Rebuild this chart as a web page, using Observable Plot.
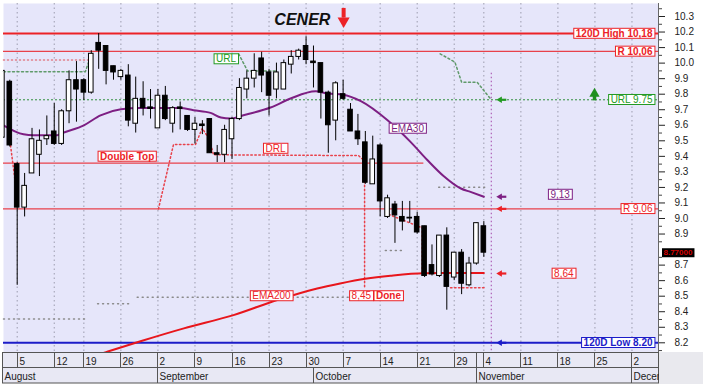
<!DOCTYPE html>
<html><head><meta charset="utf-8">
<script src="https://cdn.jsdelivr.net/npm/d3@7"></script>
<script src="https://cdn.jsdelivr.net/npm/@observablehq/plot@0.6"></script>
<style>html,body{margin:0;padding:0;background:#fff}#chart svg{display:block}</style>
</head><body><div id="chart"></div>
<script>
// ---------- data ----------
const dates = ["2024-08-01","2024-08-02","2024-08-05","2024-08-06","2024-08-07","2024-08-08","2024-08-09","2024-08-12","2024-08-13","2024-08-14","2024-08-16","2024-08-19","2024-08-20","2024-08-21","2024-08-22","2024-08-23","2024-08-26","2024-08-27","2024-08-28","2024-08-29","2024-08-30","2024-09-02","2024-09-03","2024-09-04","2024-09-05","2024-09-06","2024-09-09","2024-09-10","2024-09-11","2024-09-12","2024-09-13","2024-09-16","2024-09-17","2024-09-18","2024-09-19","2024-09-20","2024-09-23","2024-09-24","2024-09-25","2024-09-26","2024-09-27","2024-09-30","2024-10-01","2024-10-02","2024-10-03","2024-10-04","2024-10-07","2024-10-08","2024-10-09","2024-10-10","2024-10-11","2024-10-14","2024-10-15","2024-10-16","2024-10-17","2024-10-18","2024-10-21","2024-10-22","2024-10-23","2024-10-24","2024-10-25","2024-10-29","2024-10-30","2024-10-31","2024-11-01","2024-11-04"];
const open = [9.52,9.88,9.35,9.07,9.29,9.41,9.51,9.56,9.48,9.69, 9.89,9.89,9.81,10.13,10.11,9.98,9.91,9.92,9.61,9.77, 9.715,9.58,9.79,9.61,9.715,9.66,9.57,9.605,9.64,9.42, 9.41,9.51,9.64,9.83,9.90,10.03,9.94,9.83,9.83,9.99, 10.04,10.11,10.01,10.00,9.81,9.63,9.80,9.70,9.56,9.49, 9.22,9.47,9.01,9.09,9.01,9.005,9.01,8.95,8.70,8.63, 8.89,8.62,8.78,8.57,8.71,8.95];
const high = [9.96,9.89,9.36,9.29,9.58,9.57,9.66,9.74,9.70,9.95, 10.01,9.90,10.08,10.19,10.11,9.98,9.96,9.99,9.91,9.88, 9.83,9.83,9.85,9.72,9.75,9.66,9.65,9.63,9.64,9.47, 9.60,9.65,9.90,9.95,10.06,10.07,9.96,10.00,10.02,10.08, 10.09,10.17,10.11,10.00,9.82,9.88,9.89,9.74,9.67,9.56, 9.53,9.48,9.15,9.11,9.11,9.11,9.04,8.95,8.83,8.89, 8.94,8.78,8.80,8.75,8.97,8.98];
const low = [9.50,9.46,8.57,9.01,9.29,9.27,9.47,9.47,9.47,9.61, 9.62,9.76,9.80,9.96,9.86,9.89,9.89,9.59,9.55,9.66, 9.64,9.58,9.63,9.55,9.57,9.56,9.48,9.54,9.42,9.36, 9.36,9.38,9.63,9.77,9.84,9.81,9.66,9.77,9.83,9.93, 10.02,9.99,9.84,9.64,9.42,9.50,9.76,9.56,9.47,9.22, 9.22,9.01,9.00,8.84,8.92,8.97,8.90,8.62,8.63,8.62, 8.41,8.60,8.51,8.56,8.70,8.75];
const close = [9.95,9.47,9.07,9.21,9.51,9.50,9.53,9.48,9.69,9.89, 9.83,9.81,10.06,10.08,9.95,9.94,9.95,9.63,9.77,9.71, 9.705,9.79,9.64,9.71,9.705,9.57,9.61,9.595,9.42,9.41, 9.57,9.64,9.84,9.90,9.95,9.92,9.79,9.94,10.00,10.04, 10.08,10.02,10.00,9.81,9.60,9.87,9.77,9.56,9.51,9.23, 9.38,9.11,9.13,9.02,8.98,9.00,8.91,8.63,8.64,8.89, 8.56,8.78,8.58,8.71,8.97,8.78];
const holidays = ["2024-08-15","2024-10-28"];

// overlays: [trading-day index since 1 Aug 2024, price]
const ema30 = [[0.15,9.60],[2.85,9.542],[4.2,9.536],[7.4,9.536],[8.1,9.55],[11,9.60],[13.25,9.664],[16,9.703],[18.6,9.711],[24,9.711],[25.8,9.697],[28.1,9.68],[29.5,9.65],[30.8,9.643],[32.8,9.668],[36.2,9.714],[38.9,9.772],[42.3,9.819],[43.9,9.804],[46,9.797],[48.4,9.755],[52,9.632],[55.1,9.493],[57.4,9.375],[59.6,9.272],[61.9,9.193],[63.2,9.171],[65,9.14]];
const ema200 = [[11,8.094],[14,8.14],[18.65,8.21],[24.5,8.293],[31.2,8.378],[37.1,8.475],[42.5,8.55],[45.6,8.582],[49,8.612],[52.4,8.632],[56.9,8.648],[65,8.65]];
const urlTrail = [
  [[0.15,9.945],[11.2,9.945],[12.1,10.07]],
  [[31.9,10.06],[33.1,9.95],[36.9,9.95]],
  [[59.1,10.06],[61.1,10.006],[62.0,9.877],[64.1,9.877],[65.9,9.77]]
];
const drlTrail = [
  [[1.1,9.47],[2.17,9.073]],
  [[21.07,9.062],[23.1,9.476],[26.07,9.476],[26.98,9.58],[27.96,9.51],[28.5,9.41],[48.07,9.405],[48.9,9.37],[48.9,8.55]],
  [[52.17,9.026],[56.45,8.944],[56.68,8.944],[56.68,8.646]],
  [[60.5,8.554],[65.2,8.554]]
];
const pinkTrail = [[[0.15,10.02],[11.6,10.02]]];
const greyTrail = [
  [[0.15,8.354],[11.2,8.354]],
  [[12.85,8.451],[17.3,8.451]],
  [[18.2,8.493],[48.35,8.493]],
  [[51.7,8.794],[54,8.794]],
  [[58.9,9.201],[65.2,9.201]]
];
// horizontal levels
const levelValues = [10.19, 10.075, 9.764, 9.062, 8.20];
const levelLabels = ["120D High 10,18", "R 10,06", "URL 9.75", "R 9,06", "120D Low 8.20"];
const necklineValue = 9.356, necklineEnd = 56.9;
// boxed labels
const labelText = ["Double Top","DRL","URL","EMA30","EMA200","8,45","Done","9,13","8,64"];
const labelT = [16.85, 36.87, 30.2, 54.7, 36.33, 48.46, 52.13, 75.3, 75.8];
const labelV = [9.399, 9.450, 10.026, 9.579, 8.501, 8.501, 8.501, 9.154, 8.646];
// arrows pointing to the last values
const arrowValues = [9.764, 9.14, 9.062, 8.646, 8.20];
const markerDay = 66;            // dotted vertical (5 Nov)
const lastPrice = "8.77000";
const title = "CENER";
// axis (8.8 is hidden behind the last-price tag in the original)
const yTickValues = [8.2,8.3,8.4,8.5,8.6,8.7,8.9,9.0,9.1,9.2,9.3,9.4,9.5,9.6,9.7,9.8,9.9,10.0,10.1,10.2,10.3];
const weekTickDates = ["2024-08-05","2024-08-12","2024-08-19","2024-08-26","2024-09-02","2024-09-09","2024-09-16","2024-09-23","2024-09-30","2024-10-07","2024-10-14","2024-10-21","2024-10-29","2024-11-04","2024-11-11","2024-11-18","2024-11-25","2024-12-02"];
const weekTickLabels = ["5","12","19","26","2","9","16","23","30","7","14","21","29","4","11","18","25","2"];
const monthStartDates = ["2024-08-01","2024-09-02","2024-10-01","2024-11-01","2024-12-02"];
const monthLabels = ["August","September","October","November","December"];

// ---------- trading calendar ----------
const cal = [];
for (let d = new Date(Date.UTC(2024,7,1)); d <= new Date(Date.UTC(2024,11,31)); d.setUTCDate(d.getUTCDate()+1)) {
  const w = d.getUTCDay(), s = d.toISOString().slice(0,10);
  if (w > 0 && w < 6 && !holidays.includes(s)) cal.push(s);
}
const T = s => cal.indexOf(s);
const candles = dates.map((d,i) => ({t: T(d), open: open[i], high: high[i], low: low[i], close: close[i]}));
const weekT = weekTickDates.map(T);
const monthT = monthStartDates.map(T);

// ---------- colors ----------
const RED = "#ec2227", PURPLE = "#7d1f83", GREEN = "#239a23", BLUE = "#1c1cc8", BG = "#e6e6fa";
const labelColor = [RED, RED, GREEN, PURPLE, RED, RED, RED, PURPLE, RED];
const labelBold = [true, false, false, false, false, false, true, false, false];
const levelColor = [RED, RED, GREEN, RED, BLUE];
const levelBold = [true, true, false, false, true];
const arrowColor = [GREEN, PURPLE, RED, RED, BLUE];
const HW = 0.31;

const line = (arr, o) => Plot.line(arr, {x: d => d[0], y: d => d[1], ...o});

const marks = [
  Plot.frame({fill: BG, stroke: null}),
  Plot.ruleX(weekT, {stroke: "#9c9cae", strokeDasharray: "1.5,3"}),
  ...greyTrail.map(s => line(s, {stroke: "#8a8a8a", strokeDasharray: "1,4"})),
  ...pinkTrail.map(s => line(s, {stroke: "#e07a86", strokeDasharray: "1,3"})),
  ...urlTrail.map(s => line(s, {stroke: "#5f9a6a", strokeDasharray: "2,2.5", curve: "linear"})),
  // levels
  Plot.ruleY([levelValues[0]], {stroke: RED, strokeWidth: 2}),
  Plot.ruleY([levelValues[1]], {stroke: "#e8414a", strokeWidth: 1.3}),
  Plot.ruleY([levelValues[2]], {stroke: "#2f8f3a", strokeDasharray: "2,2", strokeWidth: 1}),
  Plot.ruleY([{v: necklineValue, a: 0.15, b: necklineEnd}], {y: "v", x1: "a", x2: "b", stroke: "#e8414a", strokeWidth: 1.3}),
  Plot.ruleY([levelValues[3]], {stroke: "#e8414a", strokeWidth: 1.3}),
  Plot.ruleY([levelValues[4]], {stroke: BLUE, strokeWidth: 2}),
  ...drlTrail.map(s => line(s, {stroke: "#e8414a", strokeDasharray: "1.5,2.5"})),
  // moving averages
  line(ema200, {stroke: "#e8161c", strokeWidth: 2, curve: "monotone-x", clip: true}),
  line(ema30, {stroke: PURPLE, strokeWidth: 2, curve: "monotone-x", clip: true}),
  // candles
  Plot.ruleX(candles, {x: "t", y1: "low", y2: "high", stroke: "#000", strokeWidth: 1, clip: true}),
  Plot.rect(candles.filter(d => d.close >= d.open), {x1: d => d.t - HW, x2: d => d.t + HW, y1: "open", y2: "close", fill: "#fff", stroke: "#000", clip: true}),
  Plot.rect(candles.filter(d => d.close < d.open), {x1: d => d.t - HW, x2: d => d.t + HW, y1: "open", y2: "close", fill: "#000", stroke: "#000", clip: true}),
  // vertical marker
  Plot.ruleX([markerDay], {y1: 9.935, y2: 8.1376, stroke: "#a346a8", strokeDasharray: "1.5,2.5"}),
  // arrows toward the current values
  Plot.ruleY(arrowValues.map((v,i) => ({v, i})), {y: "v", x1: 67.25, x2: 68.1, stroke: d => arrowColor[d.i], strokeWidth: 2.2}),
  Plot.dot(arrowValues.map((v,i) => ({v, i})), {x: 67.18, y: "v", symbol: "triangle", r: 2.4, rotate: -90, fill: d => arrowColor[d.i], stroke: null}),
  // green up arrow
  Plot.ruleX([79.94], {y1: 9.80, y2: 9.757, stroke: "#1f8f1f", strokeWidth: 3.5}),
  Plot.dot([79.94], {x: d => d, y: 9.803, symbol: "triangle", r: 3.8, fill: "#1f8f1f", stroke: null}),
  // title + red down arrow
  Plot.text([title], {x: 40.5, y: 10.28, text: d => d, fontSize: 16, fontWeight: "bold", fontStyle: "italic", fill: "#111"}),
  Plot.ruleX([46.07], {y1: 10.352, y2: 10.29, stroke: RED, strokeWidth: 4}),
  Plot.dot([46.07], {x: d => d, y: 10.271, symbol: "triangle", r: 4.5, rotate: 180, fill: RED, stroke: null}),
  // right axis
  Plot.ruleX([88.58], {stroke: "#666"}),
  Plot.axisY({anchor: "right", ticks: yTickValues, tickFormat: d => d.toFixed(1), tickSize: 6, tickPadding: 10, fontSize: 10, color: "#222"}),
  Plot.axisY({anchor: "right", ticks: d3.range(8.15, 10.36, 0.1), tickFormat: () => "", tickSize: 3, color: "#444"}),
];
// level labels (right side)
levelValues.forEach((v,i) => marks.push(Plot.text([levelLabels[i]], {
  y: () => v, text: d => d, frameAnchor: "right", textAnchor: "end", dx: -6, fontSize: 10,
  fontWeight: levelBold[i] ? "bold" : "normal", fill: levelColor[i], className: "boxed", ariaDescription: "boxed"})));
// boxed labels
labelText.forEach((s,i) => marks.push(Plot.text([s], {
  x: () => labelT[i], y: () => labelV[i], text: d => d, fontSize: 10,
  fontWeight: labelBold[i] ? "bold" : "normal", fill: labelColor[i], className: "boxed", ariaDescription: "boxed"})));
// last price tag
marks.push(Plot.text([lastPrice], {y: () => close[close.length-1], text: d => d, frameAnchor: "right", textAnchor: "start", dx: 5, fontSize: 8, fontWeight: "bold", fill: "#d40000", className: "tag", ariaDescription: "tag"}));

const chart = Plot.plot({
  width: 703, height: 384,
  marginTop: 3, marginRight: 45, marginBottom: 32, marginLeft: 3,
  x: {domain: [0.15, 88.58], axis: null},
  y: {domain: [8.1376, 10.3837], axis: null},
  style: {fontFamily: "'Liberation Sans', Arial, sans-serif", fontSize: "10px", background: "#fff"},
  marks
});
document.getElementById("chart").append(chart);

// boxes behind labels
const NS = "http://www.w3.org/2000/svg";
chart.querySelectorAll('g.boxed text, g[aria-description="boxed"] text, g.tag text, g[aria-description="tag"] text').forEach(t => {
  const isTag = t.closest('g.tag, g[aria-description="tag"]') != null;
  const b = t.getBBox();
  const r = document.createElementNS(NS, "rect");
  r.setAttribute("x", b.x - (isTag ? 1.5 : 2));
  r.setAttribute("y", b.y + (isTag ? 0 : 0.5));
  r.setAttribute("width", b.width + (isTag ? 3 : 4));
  r.setAttribute("height", b.height - (isTag ? 0 : 1));
  const tr = t.getAttribute("transform"); if (tr) r.setAttribute("transform", tr);
  r.setAttribute("fill", isTag ? "#000" : "#fff");
  r.setAttribute("stroke", isTag ? "none" : getComputedStyle(t).fill);
  r.setAttribute("stroke-width", 1);
  t.parentNode.insertBefore(r, t);
});

// date axis rows, positioned with Plot's x scale
const sx = chart.scale("x");
const X = t => Math.round(sx.apply(t)) + 0.5;
const svg = d3.select(chart);
svg.append("rect").attr("x", 658.5).attr("y", 352).attr("width", 45).attr("height", 32).attr("fill", "#e9e9ee");
svg.append("defs").append("clipPath").attr("id", "axclip").append("rect").attr("x", 2).attr("y", 350).attr("width", 657).attr("height", 34);
const ax = svg.append("g").attr("clip-path", "url(#axclip)").attr("text-anchor", "start")
  .attr("font-family", "'Liberation Sans', Arial, sans-serif").attr("font-size", 10).attr("fill", "#222");
ax.append("rect").attr("x", 2.5).attr("y", 352.5).attr("width", 656).attr("height", 30.5).attr("fill", "#e8e8f4").attr("stroke", "#555");
ax.append("line").attr("x1", 2.5).attr("x2", 658.5).attr("y1", 367.5).attr("y2", 367.5).attr("stroke", "#555");
weekT.forEach((t,i) => {
  const x = X(t);
  ax.append("line").attr("x1", x).attr("x2", x).attr("y1", 352.5).attr("y2", 367.5).attr("stroke", "#555");
  ax.append("text").attr("x", x + 2).attr("y", 364.5).text(weekTickLabels[i]);
});
monthT.forEach((t,i) => {
  const x = Math.max(2.5, X(t));
  const fullHeight = !weekT.includes(t) && i === 3;
  ax.append("line").attr("x1", x).attr("x2", x).attr("y1", fullHeight ? 352.5 : 367.5).attr("y2", 383).attr("stroke", "#555");
  ax.append("text").attr("x", x + 2).attr("y", 380).text(monthLabels[i]);
});
</script>
</body></html>
